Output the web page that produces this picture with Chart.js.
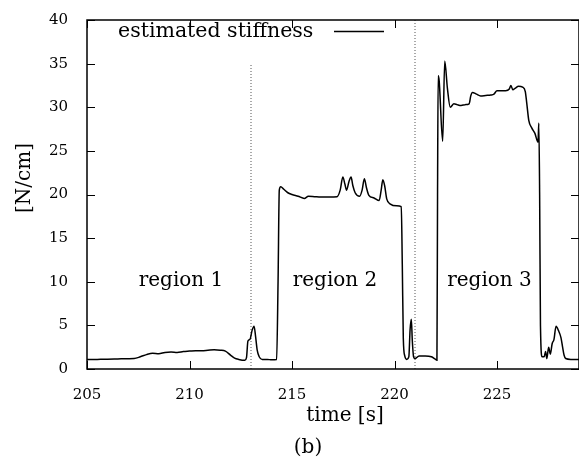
<!DOCTYPE html>
<html><head><meta charset="utf-8">
<script src="https://cdn.jsdelivr.net/npm/chart.js@4/dist/chart.umd.min.js"></script>
<style>html,body{margin:0;padding:0;background:#fff}canvas{display:block}</style>
</head><body>
<canvas id="c" width="579" height="462"></canvas>
<script>
const times = [205.0,205.5,206.0,206.5,207.0,207.3,207.6,207.9,208.2,208.5,208.8,209.1,209.4,209.7,210.0,210.3,210.6,210.9,211.2,211.5,211.75,212.0,212.2,212.4,212.7,212.78,212.85,212.95,213.05,213.15,213.22,213.3,213.4,213.55,213.8,214.0,214.25,214.32,214.38,214.45,214.6,214.8,215.0,215.3,215.6,215.8,216.1,216.4,216.8,217.2,217.35,217.48,217.58,217.66,217.78,217.88,217.97,218.08,218.3,218.42,218.53,218.63,218.75,219.0,219.25,219.35,219.43,219.52,219.62,219.8,220.1,220.33,220.38,220.43,220.5,220.6,220.7,220.76,220.82,220.87,220.93,221.0,221.2,221.5,221.8,222.0,222.07,222.1,222.13,222.18,222.35,222.45,222.58,222.72,222.9,223.05,223.25,223.45,223.64,223.72,223.8,224.0,224.2,224.45,224.7,224.85,225.0,225.2,225.42,225.6,225.68,225.77,225.9,226.05,226.25,226.38,226.45,226.55,226.7,226.85,227.0,227.04,227.08,227.12,227.2,227.3,227.37,227.43,227.52,227.6,227.69,227.78,227.88,228.0,228.12,228.2,228.27,228.35,228.6,229.0];
const stiffness = [1.08,1.1,1.12,1.15,1.18,1.2,1.4,1.65,1.8,1.75,1.9,1.95,1.9,2.0,2.05,2.1,2.1,2.15,2.2,2.15,2.05,1.6,1.25,1.1,1.0,1.3,3.2,3.4,4.4,4.9,3.8,2.2,1.4,1.1,1.1,1.05,1.1,10,20.5,20.9,20.6,20.2,20.0,19.8,19.55,19.8,19.75,19.7,19.7,19.75,20.5,22.0,21.2,20.5,21.5,22.0,21.0,20.2,19.8,20.5,21.8,20.8,19.9,19.6,19.3,20.5,21.7,21.0,19.5,18.9,18.7,18.6,12,3.5,1.5,1.1,1.4,4.5,5.7,3.2,1.4,1.2,1.5,1.5,1.4,1.1,1.0,20,33.6,33.0,26.1,35.3,32.2,30.0,30.4,30.3,30.2,30.3,30.4,31.3,31.7,31.5,31.3,31.35,31.4,31.5,31.9,31.9,31.9,32.1,32.5,32.0,32.2,32.4,32.3,31.8,30.5,28.5,27.6,27.0,26.0,28.2,20,5,1.4,1.4,2.0,1.2,2.5,1.7,2.9,3.4,4.9,4.4,3.6,2.5,1.6,1.2,1.1,1.1];
const boundaryTimes = [213, 221];
const boundaryTops = [35, 40];
const regionNames = ["region 1", "region 2", "region 3"];
const xTicks = [205, 210, 215, 220, 225];
const yTicks = [0, 5, 10, 15, 20, 25, 30, 35, 40];
const seriesLabel = "estimated stiffness";
const xTitle = "time [s]";
const yTitle = "[N/cm]";
const caption = "(b)";

const FONT = "'DejaVu Serif', serif";

const main = times.map((t, i) => ({x: t, y: stiffness[i]}));
const boundarySets = boundaryTimes.map((t, i) => ({
  data: [{x: t, y: 0}, {x: t, y: boundaryTops[i]}],
  borderColor: '#555', borderWidth: 1, borderDash: [1, 2],
  pointRadius: 0, fill: false
}));

const frame = {
  id: 'frame',
  afterDraw(chart) {
    const {ctx, chartArea: a, scales: {x, y}} = chart;
    ctx.save();
    ctx.strokeStyle = '#000';
    ctx.lineWidth = 1.5;
    ctx.strokeRect(a.left, a.top, a.right - a.left, a.bottom - a.top);
    ctx.beginPath();
    xTicks.forEach(v => {
      const px = Math.round(x.getPixelForValue(v)) + 0.5;
      ctx.moveTo(px, a.bottom); ctx.lineTo(px, a.bottom - 8);
      ctx.moveTo(px, a.top); ctx.lineTo(px, a.top + 8);
    });
    yTicks.forEach(v => {
      const py = Math.round(y.getPixelForValue(v)) + 0.5;
      ctx.moveTo(a.left, py); ctx.lineTo(a.left + 8, py);
      ctx.moveTo(a.right, py); ctx.lineTo(a.right - 8, py);
    });
    ctx.lineWidth = 1;
    ctx.stroke();

    ctx.fillStyle = '#000';
    ctx.font = '20.5px ' + FONT;
    ctx.textBaseline = 'alphabetic';
    ctx.textAlign = 'left';
    ctx.fillText(seriesLabel, 118, 37);
    ctx.beginPath();
    ctx.moveTo(334, 31.5); ctx.lineTo(384, 31.5);
    ctx.lineWidth = 1.5; ctx.stroke();
    ctx.font = '20px ' + FONT;
    ctx.textAlign = 'center';
    const regionX = [181, 335, 489.5];
    regionNames.forEach((n, i) => ctx.fillText(n, regionX[i], 286));
    ctx.fillText(xTitle, 345, 421);
    ctx.fillText(caption, 308, 453);
    ctx.save();
    ctx.translate(25, 178);
    ctx.rotate(-Math.PI / 2);
    ctx.textBaseline = 'middle';
    ctx.fillText(yTitle, 0, 0);
    ctx.restore();
    ctx.restore();
  }
};

new Chart(document.getElementById('c'), {
  type: 'line',
  data: {
    datasets: [
      {data: main, borderColor: '#000', borderWidth: 1.5, pointRadius: 0, fill: false,
       cubicInterpolationMode: 'monotone'},
      ...boundarySets
    ]
  },
  options: {
    responsive: false,
    animation: false,
    devicePixelRatio: 1,
    layout: {padding: {top: 13, left: 0, right: -2, bottom: 0}},
    plugins: {legend: {display: false}, tooltip: {enabled: false}},
    scales: {
      x: {
        type: 'linear', min: 205, max: 229,
        grid: {display: false}, border: {display: false},
        afterBuildTicks: s => { s.ticks = xTicks.map(v => ({value: v})); },
        afterFit: s => { s.height = 93; },
        ticks: {color: '#000', font: {family: FONT, size: 15}, padding: 9, maxRotation: 0}
      },
      y: {
        type: 'linear', min: 0, max: 40,
        grid: {display: false}, border: {display: false},
        afterBuildTicks: s => { s.ticks = yTicks.map(v => ({value: v})); },
        afterFit: s => { s.width = 87; },
        ticks: {color: '#000', font: {family: FONT, size: 15}, padding: 11}
      }
    }
  },
  plugins: [frame]
});
</script>
</body></html>
